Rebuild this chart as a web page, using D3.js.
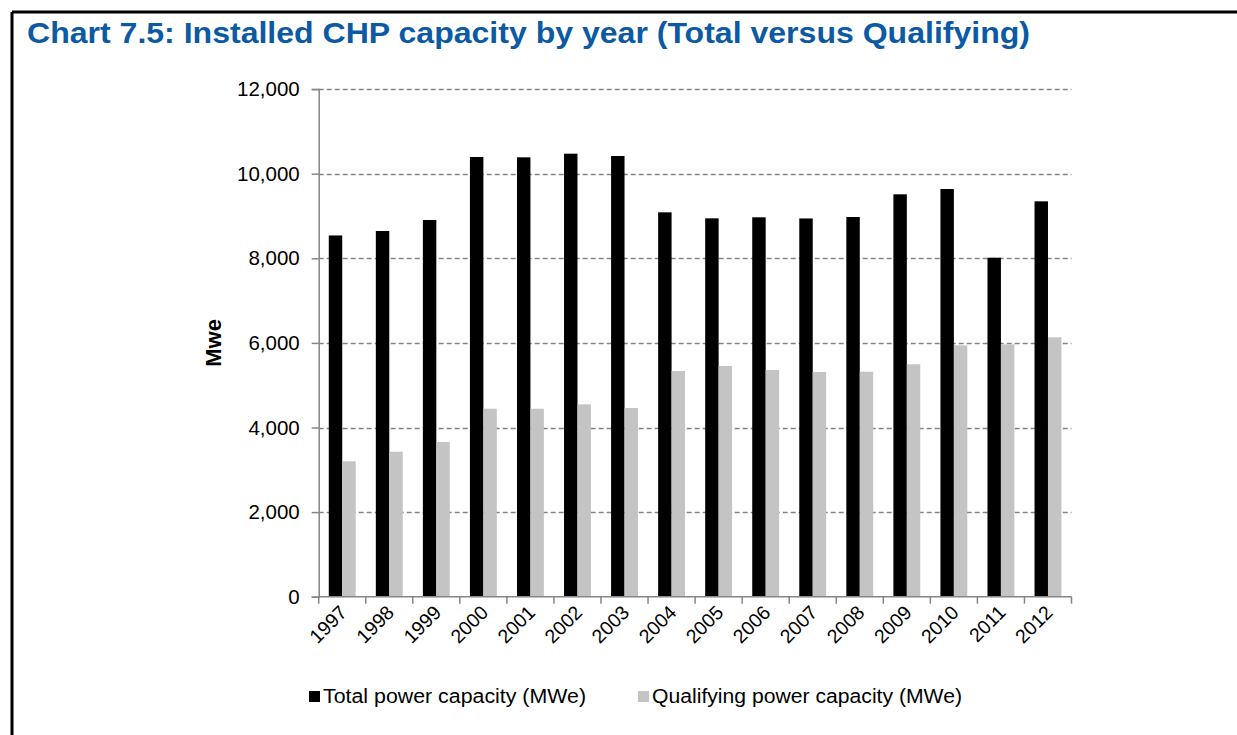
<!DOCTYPE html>
<html>
<head>
<meta charset="utf-8">
<script src="https://cdn.jsdelivr.net/npm/d3@7"></script>
<style>
  html, body { margin: 0; padding: 0; background: #fff; }
  svg { display: block; }
  text { font-family: "Liberation Sans", Arial, Helvetica, sans-serif; }
</style>
</head>
<body>
<svg id="chart" width="1237" height="735"></svg>
<script>
// Installed CHP capacity, MWe
const years = ["1997","1998","1999","2000","2001","2002","2003","2004",
               "2005","2006","2007","2008","2009","2010","2011","2012"];
const totalCapacity = [8540, 8645, 8905, 10395, 10387, 10473, 10418, 9087,
                       8945, 8969, 8942, 8976, 9513, 9638, 8014, 9347];
const qualifyingCapacity = [3201, 3428, 3657, 4444, 4444, 4548, 4461, 5336,
                            5454, 5359, 5312, 5319, 5494, 5943, 5967, 6132];
const yTicks = [0, 2000, 4000, 6000, 8000, 10000, 12000];
const seriesNames = ["Total power capacity (MWe)", "Qualifying power capacity (MWe)"];
const seriesColors = ["#000000", "#c4c4c4"];

const svg = d3.select("#chart");

// Frame (top and left rules)
svg.append("line").attr("x1", 12).attr("x2", 1237).attr("y1", 12).attr("y2", 12)
  .attr("stroke", "#000").attr("stroke-width", 3);
svg.append("line").attr("x1", 12).attr("x2", 12).attr("y1", 12).attr("y2", 735)
  .attr("stroke", "#000").attr("stroke-width", 3);

// Title
svg.append("text")
  .attr("x", 27).attr("y", 43)
  .attr("font-size", 30).attr("font-weight", "bold")
  .attr("fill", "#0b5aa3")
  .attr("textLength", 1003).attr("lengthAdjust", "spacingAndGlyphs")
  .text("Chart 7.5: Installed CHP capacity by year (Total versus Qualifying)");

const plot = { left: 318.7, right: 1071.5, top: 89.1, bottom: 596.7 };

const x = d3.scaleBand().domain(years).range([plot.left, plot.right]).paddingInner(0).paddingOuter(0);
const y = d3.scaleLinear().domain([0, 12000]).range([plot.bottom, plot.top]);

// Two bars per band, Excel-style gap width of 150%
const barW = x.bandwidth() / 3.5;
const groupOffset = (x.bandwidth() - 2 * barW) / 2;

// Gridlines
svg.append("g").selectAll("line")
  .data(yTicks.filter(d => d > 0))
  .join("line")
  .attr("x1", plot.left).attr("x2", plot.right)
  .attr("y1", d => Math.round(y(d)) + 0.5).attr("y2", d => Math.round(y(d)) + 0.5)
  .attr("stroke", "#858585").attr("stroke-width", 1.6)
  .attr("stroke-dasharray", "5,3");

// Bars
const series = [totalCapacity, qualifyingCapacity];
series.forEach((vals, si) => {
  svg.append("g").selectAll("rect")
    .data(vals)
    .join("rect")
    .attr("x", (d, i) => x(years[i]) + groupOffset + si * barW)
    .attr("width", barW)
    .attr("y", d => y(d))
    .attr("height", d => y(0) - y(d))
    .attr("fill", seriesColors[si]);
});

// Y axis
const yAxis = svg.append("g")
  .attr("transform", `translate(${plot.left},0)`)
  .call(d3.axisLeft(y).tickValues(yTicks).tickFormat(d3.format(",")).tickSize(7).tickPadding(12));
yAxis.select(".domain").attr("stroke", "#868686").attr("stroke-width", 1.5);
yAxis.selectAll(".tick line").attr("stroke", "#868686").attr("stroke-width", 1.5);
yAxis.selectAll(".tick text")
  .attr("font-size", 20.5).attr("fill", "#000")
  .attr("font-family", "Liberation Sans, Arial, sans-serif");

// X axis: ticks sit on band boundaries
const xAxisG = svg.append("g").attr("transform", `translate(0,${plot.bottom})`);
xAxisG.append("line")
  .attr("x1", plot.left).attr("x2", plot.right).attr("y1", 0).attr("y2", 0)
  .attr("stroke", "#868686").attr("stroke-width", 1.5);
const boundaries = years.map(d => x(d)).concat([x(years[years.length - 1]) + x.bandwidth()]);
xAxisG.selectAll("line.tk")
  .data(boundaries)
  .join("line").attr("class", "tk")
  .attr("x1", d => d).attr("x2", d => d).attr("y1", 0).attr("y2", 7)
  .attr("stroke", "#868686").attr("stroke-width", 1.5);
xAxisG.selectAll("text")
  .data(years)
  .join("text")
  .attr("transform", d => `translate(${x(d) + x.bandwidth() / 2 + 6},${17}) rotate(-45)`)
  .attr("text-anchor", "end")
  .attr("font-size", 19.5)
  .attr("fill", "#000")
  .text(d => d);

// Y axis title
svg.append("text")
  .attr("transform", `translate(221,${(plot.top + plot.bottom) / 2}) rotate(-90)`)
  .attr("text-anchor", "middle")
  .attr("font-size", 22).attr("font-weight", "bold")
  .text("Mwe");

// Legend
const legendItems = [
  { name: seriesNames[0], color: seriesColors[0], x: 309, len: 263 },
  { name: seriesNames[1], color: seriesColors[1], x: 638, len: 310 }
];
const lg = svg.append("g").selectAll("g").data(legendItems).join("g")
  .attr("transform", d => `translate(${d.x},690)`);
lg.append("rect").attr("y", 1).attr("width", 11).attr("height", 11).attr("fill", d => d.color);
lg.append("text").attr("x", 14).attr("y", 13)
  .attr("font-size", 20).attr("fill", "#000")
  .attr("textLength", d => d.len).attr("lengthAdjust", "spacingAndGlyphs")
  .text(d => d.name);
</script>
</body>
</html>
